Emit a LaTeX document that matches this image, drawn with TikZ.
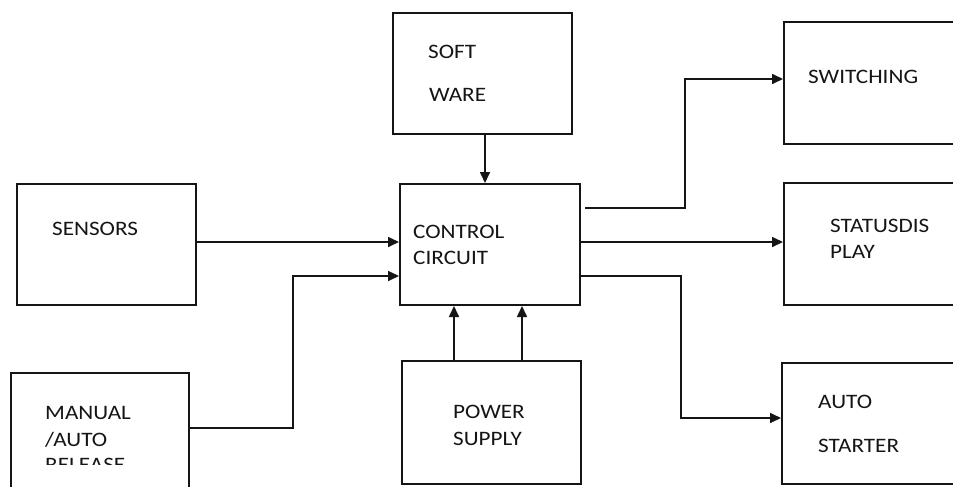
\documentclass[tikz,border=0pt]{standalone}
\usepackage{fontspec}
\setmainfont{Carlito}[FakeStretch=1.13]
\usetikzlibrary{arrows.meta}
\definecolor{ink}{HTML}{151515}
\tikzset{
  box/.style={draw=ink, line width=2pt, rectangle, inner sep=0pt, anchor=north west},
  lbl/.style={text=ink, inner sep=0pt, anchor=base west, font=\fontsize{20.5}{24}\selectfont},
  arr/.style={draw=ink, line width=1.6pt, -{Triangle[length=11pt,width=10pt]}},
  wire/.style={draw=ink, line width=1.6pt}
}
\begin{document}
\begin{tikzpicture}[x=1pt,y=-1pt]
\clip (0,0) rectangle (953,487);
\fill[white] (0,0) rectangle (953,487);
% boxes
\node[box, minimum width=179pt, minimum height=121pt] (soft) at (392,12) {};
\node[box, minimum width=180pt, minimum height=121pt] (ctrl) at (399,183) {};
\node[box, minimum width=179pt, minimum height=121pt] (sens) at (16,183) {};
\node[box, minimum width=178pt, minimum height=130pt] (man) at (10,372) {};
\node[box, minimum width=179pt, minimum height=123pt] (pow) at (401,360) {};
\node[box, minimum width=185pt, minimum height=122pt] (sw) at (783,21) {};
\node[box, minimum width=185pt, minimum height=122pt] (stat) at (783,182) {};
\node[box, minimum width=187pt, minimum height=121pt] (auto) at (781,362) {};
% texts
\node[lbl] (tsoft) at (428,58.5) {SOFT};
\node[lbl] (tware) at (429,101.5) {WARE};
\node[lbl] (tctrl) at (413,238.5) {CONTROL};
\node[lbl] (tcirc) at (413,264.5) {CIRCUIT};
\node[lbl] (tsens) at (52,235) {SENSORS};
\node[lbl] (tman) at (45,419) {MANUAL};
\node[lbl] (tauto) at (45,446) {/AUTO};
\begin{scope}
\clip (0,0) rectangle (300,464);
\node[lbl] (trel) at (45,471.5) {RELEASE};
\end{scope}
\node[lbl] (tpow) at (453,418) {POWER};
\node[lbl] (tsup) at (453,445) {SUPPLY};
\node[lbl] (tsw) at (808,83) {SWITCHING};
\node[lbl] (tstat) at (830,232) {STATUSDIS};
\node[lbl] (tplay) at (830,258) {PLAY};
\node[lbl] (tast) at (818,408) {AUTO};
\node[lbl] (tstr) at (818,452) {STARTER};
% connectors
\draw[arr] (soft.south -| 485,0) -- (ctrl.north -| 485,0);
\draw[arr] (sens.east |- 0,242) -- (ctrl.west |- 0,242);
\draw[arr] (man.east |- 0,428) -| (293,276) -- (ctrl.west |- 0,276);
\draw[arr] (pow.north -| 454,0) -- (ctrl.south -| 454,0);
\draw[arr] (pow.north -| 522,0) -- (ctrl.south -| 522,0);
\coordinate (swfree) at (585,208);
\draw[arr] (swfree) -- (685,208) |- (sw.west |- 0,79);
\draw[arr] (ctrl.east |- 0,242) -- (stat.west |- 0,242);
\draw[arr] (ctrl.east |- 0,276) -- (681,276) |- (auto.west |- 0,418);
\end{tikzpicture}
\end{document}
